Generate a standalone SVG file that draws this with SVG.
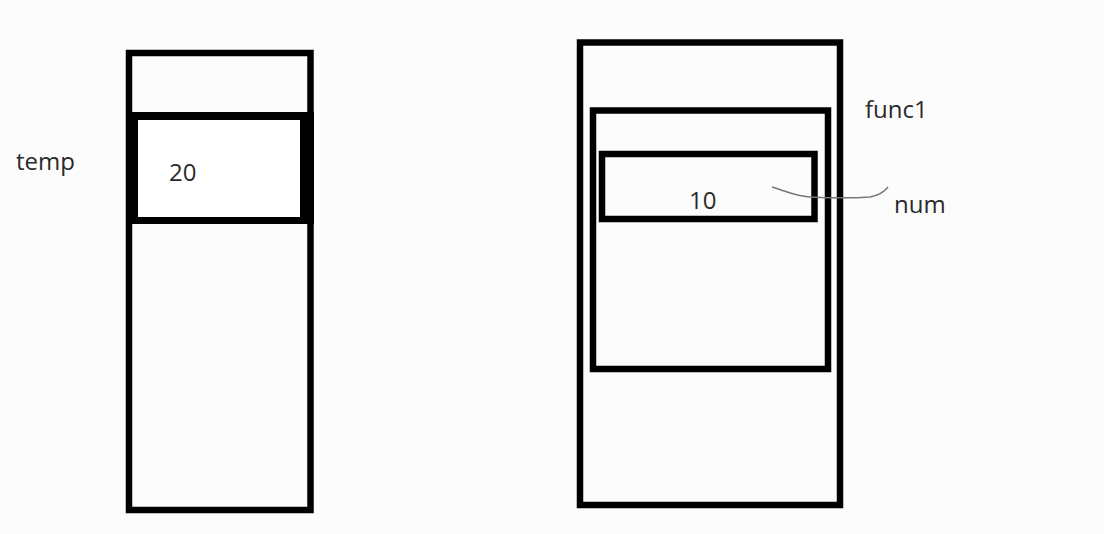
<svg xmlns="http://www.w3.org/2000/svg" width="1104" height="534" viewBox="0 0 1104 534">
<style>
.box{fill:none;stroke:#000;stroke-width:6.5}
.lbl{font-family:"Open Sans","DejaVu Sans",sans-serif;font-size:24px;fill:#2a2a2a}
.lnk{fill:none;stroke:#777;stroke-width:1.5}
</style>
<rect width="1104" height="534" fill="#fcfcfc"/>
<g id="stack-left">
<rect class="box" x="129" y="53" width="181.5" height="457"/>
</g>
<g id="temp-cell">
<rect x="126" y="112" width="188" height="112" fill="#000"/>
<rect x="138" y="120" width="162" height="97" fill="#fff"/>
<text class="lbl" x="169" y="181">20</text>
</g>
<text class="lbl" x="16" y="170">temp</text>
<g id="stack-right">
<rect class="box" x="580" y="42.5" width="260" height="462.5"/>
</g>
<g id="func1-frame">
<rect class="box" x="593" y="110.5" width="235" height="258.5"/>
</g>
<text class="lbl" x="865" y="118">func1</text>
<g id="num-cell">
<rect class="box" x="602" y="154" width="212.5" height="65"/>
<text class="lbl" x="689" y="209">10</text>
</g>
<text class="lbl" x="894" y="213">num</text>
<g id="connectors">
<path class="lnk" d="M772,187 C785,191 795,196 810,197 C830,198 855,198 870,197 C880,195 885,191 888,187"/>
</g>
</svg>
